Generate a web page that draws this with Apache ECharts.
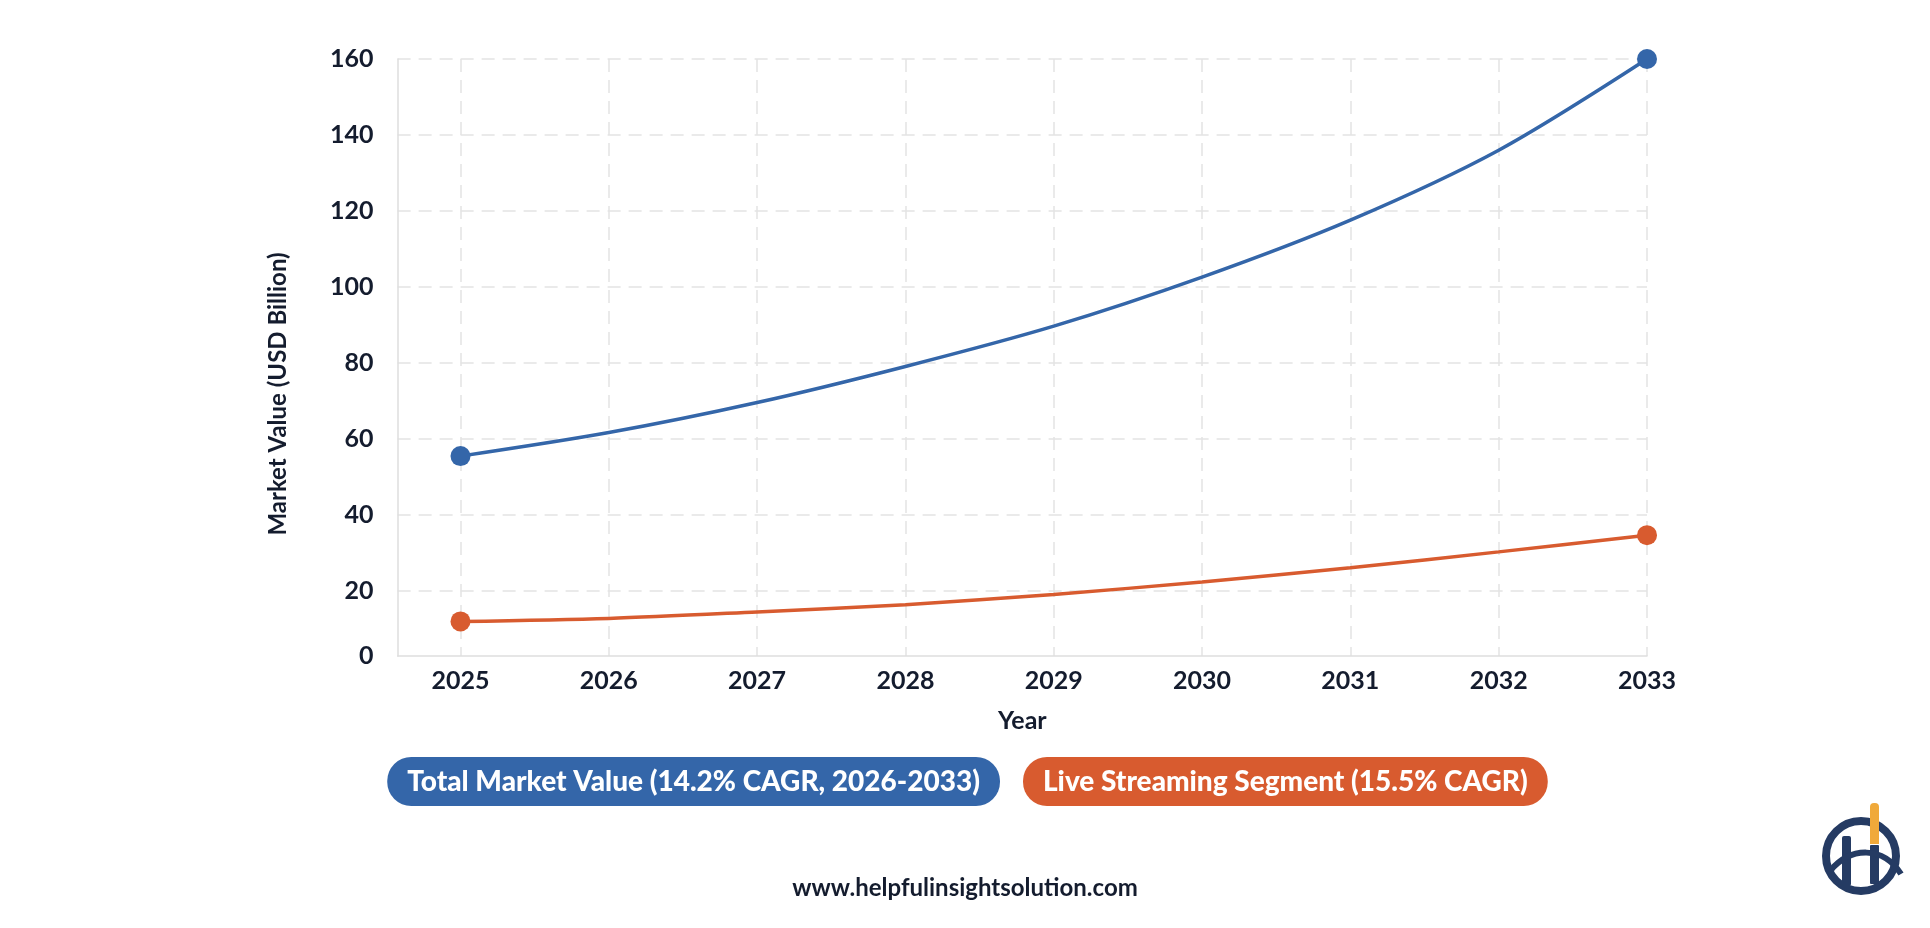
<!DOCTYPE html>
<html>
<head>
<meta charset="utf-8">
<script src="https://cdn.jsdelivr.net/npm/echarts@6/dist/echarts.min.js"></script>
<style>
html,body{margin:0;padding:0;background:#fff;}
#chart{width:1930px;height:928px;}
</style>
</head>
<body>
<div id="chart"></div>
<script>
const years = [2025, 2026, 2027, 2028, 2029, 2030, 2031, 2032, 2033];
const totalMarket = [55.5, 61.7, 69.6, 79.1, 89.7, 102.6, 117.6, 136.0, 160];
const liveStreaming = [12.0, 12.8, 14.5, 16.4, 19.1, 22.4, 26.1, 30.3, 34.7];
const yTicks = [20, 40, 60, 80, 100, 120, 140, 160];
const seriesNames = ['Total Market Value (14.2% CAGR, 2026-2033)', 'Live Streaming Segment (15.5% CAGR)'];
const colors = ['#3466a9', '#d85b2f'];
const textDark = '#141c2e';
const font = 'Lato';

function pairs(vals) {
  return years.map((y, i) => {
    const endpoint = (i === 0 || i === years.length - 1);
    return { value: [y, vals[i]], symbol: endpoint ? 'circle' : 'none' };
  });
}

const chart = echarts.init(document.getElementById('chart'), null, { renderer: 'canvas' });
chart.setOption({
  backgroundColor: '#ffffff',
  animation: false,
  title: {
    text: 'www.helpfulinsightsolution.com',
    left: 'center', top: 871,
    textStyle: { fontFamily: font, fontWeight: 'bold', fontSize: 24, color: textDark }
  },
  legend: {
    left: 'center', top: 752,
    itemGap: 18, itemWidth: 0, itemHeight: 0, icon: 'none',
    selectedMode: false,
    textStyle: { color: '#ffffff', fontFamily: font, fontWeight: 900, fontSize: 28, lineHeight: 33, padding: [8, 20], borderRadius: 24 },
    data: [
      { name: seriesNames[0], textStyle: { backgroundColor: colors[0] } },
      { name: seriesNames[1], textStyle: { backgroundColor: colors[1] } }
    ]
  },
  grid: { left: 397.6, right: 283, top: 59, bottom: 272, containLabel: false },
  xAxis: {
    type: 'value',
    min: 2024.576, max: 2033,
    name: 'Year', nameLocation: 'middle', nameGap: 52,
    nameTextStyle: { fontFamily: font, fontWeight: 'bold', fontSize: 25, color: textDark },
    axisLine: { show: true, lineStyle: { color: '#dedede', width: 1.5 } },
    axisTick: { show: false, customValues: years },
    axisLabel: {
      customValues: years, margin: 12,
      fontFamily: font, fontWeight: 'bold', fontSize: 25, color: textDark,
      formatter: v => String(Math.round(v))
    },
    splitLine: { show: true, lineStyle: { color: '#e3e3e3', width: 1.5, type: [13, 8] } }
  },
  yAxis: [{
    type: 'value',
    min: 2.9, max: 160,
    name: 'Market Value (USD Billion)', nameLocation: 'middle', nameGap: 107,
    nameTextStyle: { fontFamily: font, fontWeight: 'bold', fontSize: 24, color: textDark, padding: [0, 73, 0, 0] },
    axisLine: { show: true, lineStyle: { color: '#dedede', width: 1.5 } },
    axisTick: { show: false, customValues: yTicks },
    axisLabel: {
      customValues: yTicks, margin: 24,
      fontFamily: font, fontWeight: 'bold', fontSize: 25, color: textDark
    },
    splitLine: { show: true, lineStyle: { color: '#e3e3e3', width: 1.5, type: [13, 8] } }
  }, {
    type: 'value', position: 'left',
    min: 0, max: 1, interval: 1,
    axisLine: { show: false }, axisTick: { show: false }, splitLine: { show: false },
    axisLabel: {
      margin: 24, padding: [6, 0, 0, 0],
      fontFamily: font, fontWeight: 'bold', fontSize: 25, color: textDark,
      formatter: v => (v === 0 ? '0' : '')
    }
  }],
  series: [{
    name: seriesNames[0], type: 'line', smooth: 0.3,
    data: pairs(totalMarket),
    symbolSize: 20,
    lineStyle: { color: colors[0], width: 3.5 },
    itemStyle: { color: colors[0] },
    z: 3
  }, {
    name: seriesNames[1], type: 'line', smooth: 0.3,
    data: pairs(liveStreaming),
    symbolSize: 20,
    lineStyle: { color: colors[1], width: 3.5 },
    itemStyle: { color: colors[1] },
    z: 3
  }],
  graphic: [{
    type: 'group', left: 1822, top: 803,
    children: [
      { type: 'circle', shape: { cx: 40, cy: 55, r: 35 }, style: { fill: 'none', stroke: '#253b63', lineWidth: 8 } },
      { type: 'rect', shape: { x: 21, y: 35, width: 9, height: 50, r: 2 }, style: { fill: '#253b63' } },
      { type: 'rect', shape: { x: 49, y: 44, width: 9, height: 39, r: 1 }, style: { fill: '#253b63' } },
      { type: 'rect', shape: { x: 49, y: 2, width: 9, height: 41, r: [4, 4, 0, 0] }, style: { fill: '#f0a93a' } },
      { type: 'bezierCurve', shape: { x1: 9, y1: 70, x2: 80, y2: 73, cpx1: 30, cpy1: 45, cpx2: 62, cpy2: 45 }, style: { fill: 'none', stroke: '#253b63', lineWidth: 6 } }
    ]
  }]
});
</script>
</body>
</html>
